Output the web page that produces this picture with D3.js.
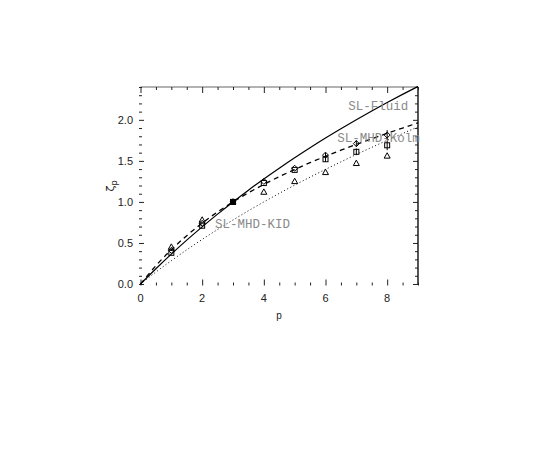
<!DOCTYPE html>
<html>
<head>
<meta charset="utf-8">
<script src="https://cdn.jsdelivr.net/npm/d3@7"></script>
<style>
  html, body { margin: 0; padding: 0; background: #fff; }
  svg { display: block; }
</style>
</head>
<body>
<svg id="chart" width="539" height="467"></svg>
<script>
// ---- data ----
const curveP      = [0, 0.5, 1, 1.5, 2, 2.5, 3, 3.5, 4, 4.5, 5, 5.5, 6, 6.5, 7, 7.5, 8, 8.5, 9];
const slFluid     = [0, 0.186, 0.364, 0.534, 0.696, 0.851, 1.000, 1.143, 1.280, 1.411, 1.538, 1.660, 1.778, 1.891, 2.001, 2.108, 2.211, 2.310, 2.407];
const slMhdKolm   = [0, 0.223, 0.418, 0.589, 0.742, 0.878, 1.000, 1.111, 1.213, 1.308, 1.395, 1.478, 1.556, 1.630, 1.701, 1.769, 1.836, 1.900, 1.963];
const slMhdKid    = [0, 0.146, 0.284, 0.416, 0.543, 0.664, 0.780, 0.892, 1.000, 1.104, 1.205, 1.302, 1.396, 1.488, 1.578, 1.665, 1.750, 1.833, 1.915];

const orders      = [1, 2, 3, 4, 5, 6, 7, 8];
const triVals     = [0.45, 0.78, 1.00, 1.12, 1.25, 1.36, 1.47, 1.56];
const sqVals      = [0.38, 0.71, 1.00, 1.23, 1.39, 1.52, 1.61, 1.69];
const sqErr       = [0, 0, 0, 0, 0, 0.03, 0.04, 0.06];
const diaVals     = [0.41, 0.74, 1.00, 1.25, 1.41, 1.57, 1.71, 1.815];
const diaErr      = [0, 0, 0, 0, 0, 0.03, 0.04, 0.06];

const xMajorTicks = [0, 2, 4, 6, 8];
const yMajorTicks = [0, 0.5, 1.0, 1.5, 2.0];
const curveNames  = ["SL-Fluid", "SL-MHD-Kolm", "SL-MHD-KID"];
const labelAnchorP = [6.74, 6.38, 2.42];
const labelAnchorV = [2.12, 1.73, 0.68];

// ---- scales ----
const svg = d3.select("#chart");
const x = d3.scaleLinear().domain([0, 9]).range([140.5, 418]);
const y = d3.scaleLinear().domain([0, 2.4]).range([284, 87]);

// ---- axes frame ----
svg.append("line").attr("x1", x(0)).attr("x2", x(9)).attr("y1", y(2.4)).attr("y2", y(2.4))
  .attr("stroke", "#999").attr("stroke-width", 1.5);
svg.append("line").attr("x1", x(9)).attr("x2", x(9)).attr("y1", y(2.4)).attr("y2", y(0) + 1)
  .attr("stroke", "#555").attr("stroke-width", 2);

const fmt1 = d3.format(".1f");
const xMinor = d3.range(0, 9.01, 0.5);
const yMinor = d3.range(0, 2.401, 0.1).map(v => +v.toFixed(1));
const isMajX = v => Math.abs(v / 2 - Math.round(v / 2)) < 1e-6;
const isMajY = v => Math.abs(v / 0.5 - Math.round(v / 0.5)) < 1e-6;

const gBottom = svg.append("g").attr("transform", `translate(0,${y(0) + 1.5})`)
  .call(d3.axisBottom(x).tickValues(xMinor).tickSizeInner(0).tickSizeOuter(0).tickFormat(""));
gBottom.select(".domain").remove();
gBottom.selectAll(".tick line").attr("y2", d => isMajX(d) ? -6 : -3).attr("stroke", "#222");

const gTop = svg.append("g").attr("transform", `translate(0,${y(2.4)})`)
  .call(d3.axisTop(x).tickValues(xMinor).tickSizeInner(0).tickSizeOuter(0).tickFormat(""));
gTop.select(".domain").remove();
gTop.selectAll(".tick line").attr("y2", d => isMajX(d) ? 6 : 3).attr("stroke", "#222");

svg.append("g").selectAll("text").data(xMajorTicks).join("text")
  .attr("x", d => x(d)).attr("y", 302).attr("text-anchor", "middle")
  .attr("font-family", "Liberation Sans, Arial, sans-serif").attr("font-size", 11).attr("fill", "#222")
  .text(d => d);

const gLeft = svg.append("g").attr("transform", `translate(${x(0) - 1.5},0)`)
  .call(d3.axisLeft(y).tickValues(yMinor).tickSizeInner(0).tickSizeOuter(0).tickFormat(""));
gLeft.select(".domain").remove();
gLeft.selectAll(".tick line").attr("x2", d => isMajY(d) ? 5 : 3).attr("stroke", "#222");

const gRight = svg.append("g").attr("transform", `translate(${x(9)},0)`)
  .call(d3.axisRight(y).tickValues(yMinor).tickSizeInner(0).tickSizeOuter(0).tickFormat(""));
gRight.select(".domain").remove();
gRight.selectAll(".tick line").attr("x2", d => isMajY(d) ? -5 : -3).attr("stroke", "#222");

svg.append("g").selectAll("text").data(yMajorTicks).join("text")
  .attr("x", 133).attr("y", d => y(d) + 4).attr("text-anchor", "end")
  .attr("font-family", "Liberation Sans, Arial, sans-serif").attr("font-size", 11).attr("fill", "#222")
  .text(d => fmt1(d));

// axis titles
svg.append("text").attr("x", 279).attr("y", 319).attr("text-anchor", "middle")
  .attr("font-family", "Liberation Sans, Arial, sans-serif").attr("font-size", 10).attr("fill", "#222")
  .text("p");
const yt = svg.append("text").attr("transform", "translate(114,186) rotate(-90)")
  .attr("text-anchor", "middle")
  .attr("font-family", "DejaVu Sans, sans-serif").attr("font-size", 11).attr("fill", "#222");
yt.append("tspan").text("ζ");
yt.append("tspan").attr("font-size", 8).attr("dy", 3).text("p");

// ---- curves ----
const line = d3.line().x((d, i) => x(curveP[i])).y(d => y(d)).curve(d3.curveMonotoneX);
svg.append("path").attr("d", line(slFluid)).attr("fill", "none")
  .attr("stroke", "#000").attr("stroke-width", 1.2);
svg.append("path").attr("d", line(slMhdKolm)).attr("fill", "none")
  .attr("stroke", "#000").attr("stroke-width", 1.3).attr("stroke-dasharray", "5,4");
svg.append("path").attr("d", line(slMhdKid)).attr("fill", "none")
  .attr("stroke", "#000").attr("stroke-width", 1).attr("stroke-dasharray", "1,2.5");

// ---- curve labels ----
svg.append("g").selectAll("text").data(curveNames).join("text")
  .attr("x", (d, i) => x(labelAnchorP[i])).attr("y", (d, i) => y(labelAnchorV[i]))
  .attr("font-family", "Liberation Mono, Courier New, monospace").attr("font-size", 12.5)
  .attr("fill", "#8a8a8a")
  .text(d => d);

// ---- error bars ----
function errBars(vals, errs) {
  svg.append("g").selectAll("line").data(orders.filter((p, i) => errs[i] > 0)).join("line")
    .attr("x1", p => x(p)).attr("x2", p => x(p))
    .attr("y1", p => y(vals[orders.indexOf(p)] - errs[orders.indexOf(p)]))
    .attr("y2", p => y(vals[orders.indexOf(p)] + errs[orders.indexOf(p)]))
    .attr("stroke", "#000").attr("stroke-width", 1);
}
errBars(sqVals, sqErr);
errBars(diaVals, diaErr);

// ---- markers ----
svg.append("g").selectAll("path").data(orders).join("path")
  .attr("transform", (p, i) => `translate(${x(p)},${y(triVals[i])})`)
  .attr("d", "M0,-3.2L3,2.2L-3,2.2Z")
  .attr("fill", "none").attr("stroke", "#000").attr("stroke-width", 1);
svg.append("g").selectAll("rect").data(orders).join("rect")
  .attr("x", p => x(p) - 2.5).attr("y", (p, i) => y(sqVals[i]) - 2.5)
  .attr("width", 5).attr("height", 5)
  .attr("fill", (p, i) => i === 2 ? "#000" : "none").attr("stroke", "#000").attr("stroke-width", 1);
svg.append("g").selectAll("path").data(orders).join("path")
  .attr("transform", (p, i) => `translate(${x(p)},${y(diaVals[i])})`)
  .attr("d", "M0,-3L3,0L0,3L-3,0Z")
  .attr("fill", "none").attr("stroke", "#000").attr("stroke-width", 1);
</script>
</body>
</html>
